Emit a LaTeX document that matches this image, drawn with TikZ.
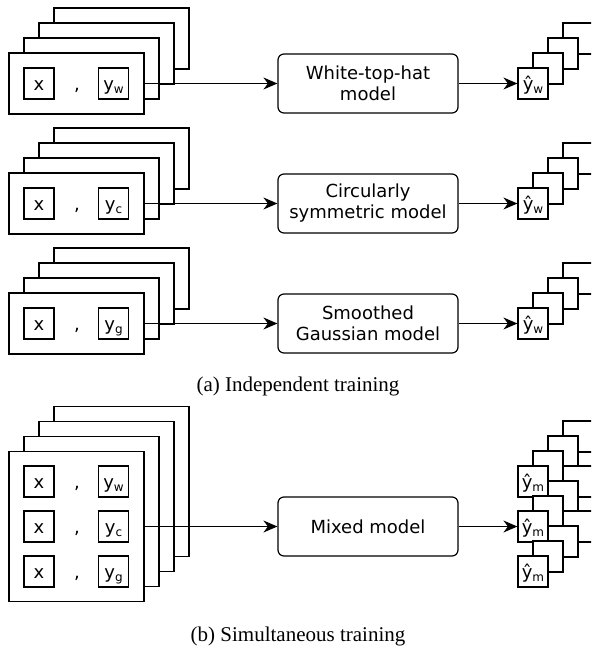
\documentclass[tikz,border=0pt]{standalone}
\usepackage{fontspec}
\setmainfont{DejaVu Sans}
\newfontfamily\capfont{Liberation Serif}
\usetikzlibrary{arrows.meta}
% label with a small lowered subscript
\newcommand\sublabel[2]{#1\raisebox{-3pt}{\fontsize{12}{12}\selectfont #2}}
\begin{document}
\begin{tikzpicture}[x=1pt, y=-1pt, line width=1.2pt,
  frame/.style={draw, fill=white, inner sep=0pt},
  cell/.style={draw, fill=white, minimum width=30pt, minimum height=31pt, inner sep=0pt,
               text height=16pt, text depth=2pt, font=\fontsize{18}{21}\selectfont},
  comma/.style={anchor=base, inner sep=0pt, font=\fontsize{18}{21}\selectfont},
  model/.style={draw, fill=white, rounded corners=6pt, minimum width=180pt, minimum height=59pt,
                align=center, inner sep=0pt, font=\fontsize{18}{21}\selectfont},
  link/.style={-{Stealth[length=14pt, width=12pt, inset=4.5pt]}},
  caption/.style={inner sep=0pt, font=\capfont\fontsize{21}{24}\selectfont}]

\clip (0,0) rectangle (591,647);

% ---------- (a) three independently trained models ----------
\foreach \t/\n/\s/\txt in {53/a/w/{White-top-hat\\model},
                           173/b/c/{Circularly\\symmetric model},
                           293/c/g/{Smoothed\\Gaussian model}} {
  % stacked training pairs
  \foreach \k in {3,2,1}
    \draw[fill=white] ({9+15*\k},{\t-15*\k}) rectangle ++(135,61);
  \node[frame, minimum width=135pt, minimum height=61pt] (in\n) at (76.5,{\t+30.5}) {};
  \node[cell] (x\n) at (39,{\t+30.5}) {x};
  \node[comma] (k\n) at (77,{\t+37.5}) {,};
  \node[cell] (y\n) at (113.5,{\t+30.5}) {\sublabel{y}{\s}};
  % model
  \node[model] (m\n) at (368,{\t+30.5}) {\txt};
  % stacked predictions
  \foreach \k in {3,2,1}
    \draw[fill=white] ({518+15*\k},{\t+15-15*\k}) rectangle ++(30,31);
  \node[cell] (o\n) at (533,{\t+30.5}) {\sublabel{ŷ}{w}};
  % connectors
  \draw[link] (in\n.east) -- (m\n.west);
  \draw[link] (m\n.east) -- (o\n.west);
}

\node[caption] (capa) at (298,386) {(a) Independent training};

% ---------- (b) one model trained on all targets ----------
\foreach \k in {3,2,1}
  \draw[fill=white] ({9+15*\k},{451.5-15*\k}) rectangle ++(135,150);
\node[frame, minimum width=135pt, minimum height=150pt] (inm) at (76.5,526.5) {};
\foreach \r/\s in {0/w, 1/c, 2/g} {
  \node[cell] (xm\r) at (39,{481.5+45*\r}) {x};
  \node[comma] (km\r) at (77,{488.5+45*\r}) {,};
  \node[cell] (ym\r) at (113.5,{481.5+45*\r}) {\sublabel{y}{\s}};
}
\node[model] (mm) at (368,526.5) {Mixed model};

\foreach \r in {0,1,2} {
  \foreach \k in {3,2,1}
    \draw[fill=white] ({518+15*\k},{466+45*\r-15*\k}) rectangle ++(30,31);
  \node[cell] (om\r) at (533,{481.5+45*\r}) {\sublabel{ŷ}{m}};
}

\draw[link] (inm.east) -- (mm.west);
\draw[link] (mm.east) -- (om1.west);

\node[caption] (capb) at (298,636) {(b) Simultaneous training};
\end{tikzpicture}
\end{document}
